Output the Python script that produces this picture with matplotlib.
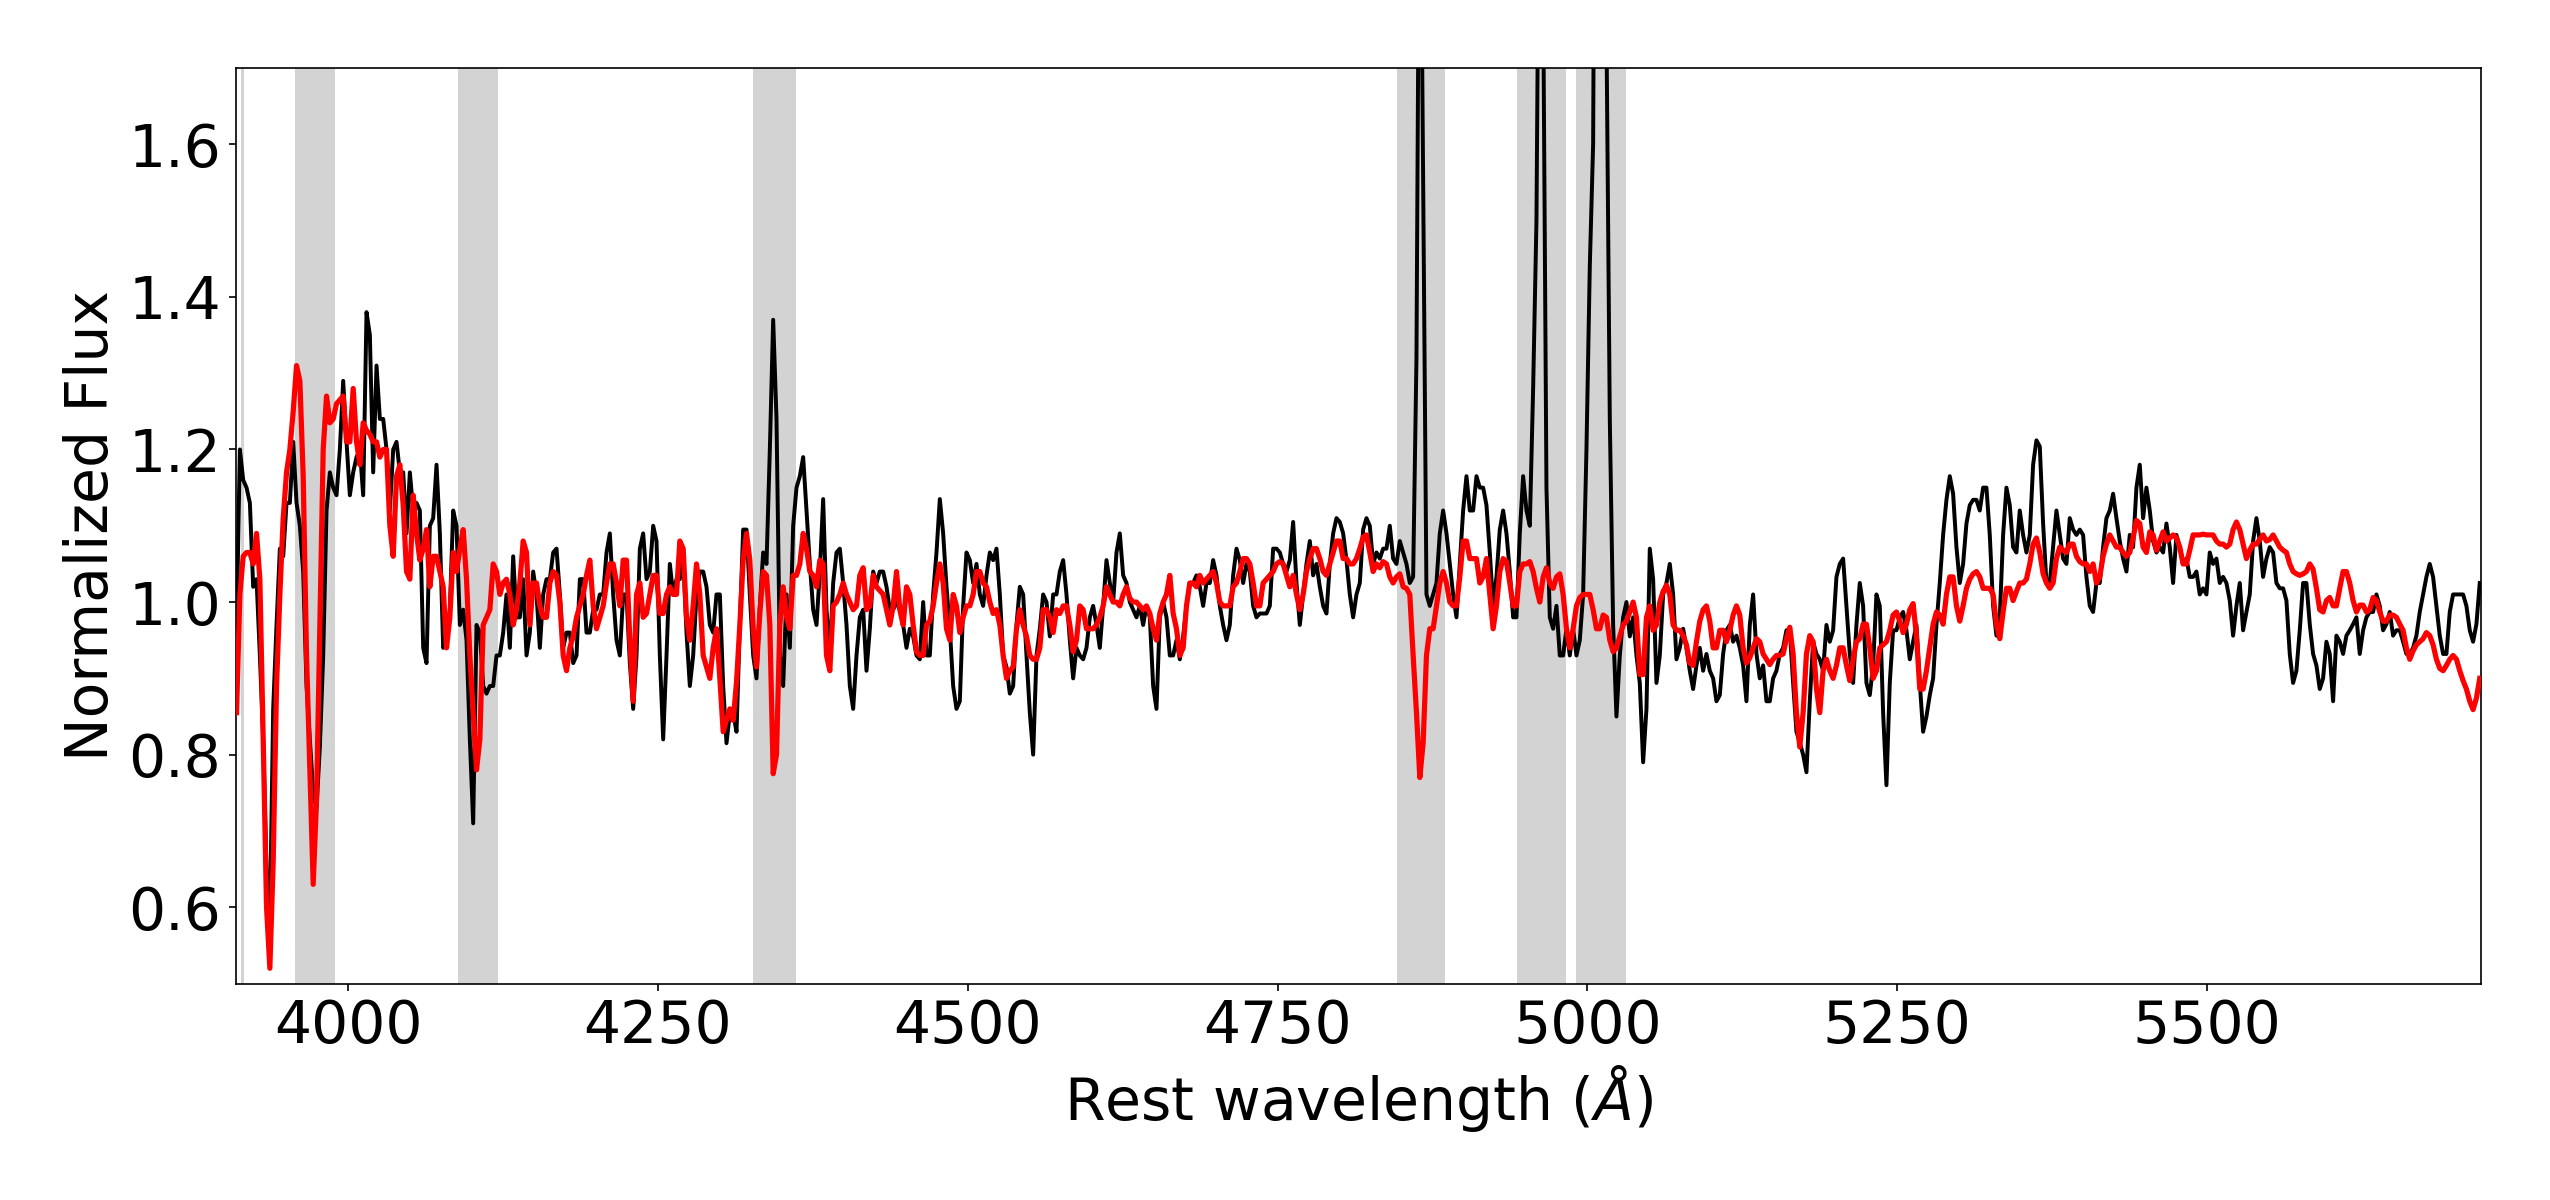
import numpy as np
import matplotlib
matplotlib.use("Agg")
import matplotlib.pyplot as plt

# Spectrum sampling (uniform dispersion grid of the spectrum)
wave_start = 3909.93
wave_step = 2.6895

black_a = [0.96,1.20,1.16,1.15,1.13,1.02,1.03,0.93,0.82,0.65,
           0.58,0.86,0.97,1.07,1.06,1.13,1.13,1.21,1.13,1.10,
           1.04,0.89,0.82,0.75,0.73,0.81,0.93,1.12,1.17,1.15,
           1.14,1.20,1.29,1.21,1.14,1.17,1.19,1.20,1.14,1.38,
           1.35,1.17,1.31,1.24,1.24,1.20,1.12,1.20,1.21,1.17,
           1.17,1.09,1.17,1.12,1.13,1.12,0.94,0.92,1.10,1.11,
           1.18,1.09,0.94,0.95,0.99,1.12,1.10,0.97,0.99,0.95,
           0.82,0.71,0.97,0.96,0.89,0.88,0.89,0.89,0.93,0.93,
           0.96,1.01,0.94,1.06,0.98]
black_b = [0.98,1.03,0.93,0.96,1.04,1.01,0.94,1.01,1.03,1.03,
           1.065,1.07,1.01,0.94,0.96,0.96,0.92,0.93,1.03,1.03,
           0.96,0.96,0.99,0.99,1.01,1.01,1.065,1.09,1.01,0.95,
           0.93,1.01,1.01,0.92,0.86,0.93,1.07,1.09,1.03,1.04,
           1.10,1.08,0.93,0.82,0.93,1.05,1.01,1.03,1.03,1.06,
           0.96,0.89,0.93,1.01,1.04,1.04,1.02,0.97,0.96,1.01,
           1.01,0.89,0.815,0.855,0.855,0.83,0.97,1.095,1.095,1.01,
           0.93,0.90,0.995,1.065,1.05,1.20,1.37,1.24,0.93,0.89,
           1.01,0.94,1.10,1.15]
black_c = [1.165,1.19,1.12,1.05,0.99,0.97,1.04,1.135,0.99,0.93,
           1.025,1.065,1.07,1.025,0.97,0.89,0.86,0.93,0.98,0.99,
           0.91,0.965,1.04,1.025,1.04,1.04,1.02,0.99,0.99,1.00,
           0.99,0.97,0.94,0.965,0.955,0.93,0.925,1.00,0.93,0.93,
           1.01,1.065,1.135,1.09,1.02,0.965,0.89,0.86,0.87,0.995,
           1.065,1.055,1.025,1.05,1.01,0.995,1.035,1.065,1.055,1.07,
           1.01,0.93,0.915,0.88,0.89,0.97,1.02,1.01,0.93,0.855,
           0.80,0.93,0.965,1.01,1.00,0.955,1.01,1.01,1.04,1.055,
           1.01,0.95,0.90,0.94]
black_d = [0.93,0.925,0.94,0.98,0.995,0.97,0.94,0.995,1.055,1.025,
           1.00,1.065,1.09,1.035,1.025,1.00,0.99,0.98,0.995,0.97,
           0.995,0.98,0.89,0.86,0.98,1.00,0.98,0.93,0.93,0.95,
           0.925,0.955,0.995,1.025,1.025,1.035,1.02,0.995,1.025,1.025,
           1.055,1.035,0.995,0.97,0.95,0.97,1.035,1.07,1.055,1.025,
           1.05,1.04,0.995,0.98,0.985,0.985,0.985,0.995,1.07,1.07,
           1.065,1.05,1.04,1.055,1.105,1.025,0.97,1.01,1.05,1.08,
           1.035,1.05,1.02,0.995,0.985,1.05,1.09,1.11,1.105,1.09,
           1.055,1.01,0.98,1.01]
black_e = [1.025,1.095,1.11,1.10,1.05,1.065,1.057,1.07,1.07,1.10,
           1.057,1.05,1.08,1.065,1.05,1.025,1.033,1.32,2.10,1.55,
           1.01,0.995,1.01,1.025,1.09,1.12,1.09,1.05,1.01,0.98,
           1.05,1.12,1.165,1.12,1.12,1.165,1.15,1.15,1.127,1.065,
           0.995,1.033,1.095,1.12,1.09,1.04,0.98,0.98,1.09,1.165,
           1.12,1.10,1.28,1.50,2.10,1.80,1.15,0.98,0.965,0.995,
           0.93,0.93,0.965,0.93,0.965,0.93,0.95,1.01,1.20,1.44,
           1.60,2.5,3.0,2.5,1.75,1.24,0.97,0.85,0.93,0.98,
           1.00,0.955,0.98,0.93]
black_f = [0.894,0.79,0.86,1.07,1.03,0.894,0.93,1.01,1.025,1.05,
           1.01,0.925,0.94,0.965,0.94,0.91,0.886,0.917,0.94,0.91,
           0.932,0.91,0.90,0.87,0.878,0.932,0.963,0.97,0.948,0.956,
           0.94,0.917,0.87,0.97,1.01,0.932,0.90,0.917,0.87,0.87,
           0.90,0.91,0.932,0.94,0.963,0.963,0.894,0.83,0.816,0.80,
           0.777,0.87,0.948,0.932,0.925,0.91,0.97,0.948,0.963,1.033,
           1.05,1.057,0.995,0.932,0.894,0.97,1.025,0.995,0.894,0.878,
           0.917,1.01,0.995,0.855,0.76,0.894,0.963,0.963,0.98,0.987,
           0.963,0.925,0.948,0.97]
black_g = [0.894,0.83,0.85,0.878,0.90,0.97,1.025,1.088,1.134,1.165,
           1.142,1.072,1.025,1.05,1.103,1.127,1.134,1.134,1.12,1.15,
           1.15,1.088,0.995,0.956,0.98,1.088,1.15,1.127,1.072,1.065,
           1.12,1.088,1.065,1.088,1.18,1.212,1.204,1.103,1.025,1.025,
           1.072,1.12,1.088,1.057,1.05,1.11,1.095,1.088,1.095,1.088,
           1.033,0.995,0.987,1.025,1.025,1.072,1.11,1.12,1.142,1.11,
           1.08,1.057,1.04,1.088,1.072,1.15,1.18,1.11,1.15,1.12,
           1.08,1.065,1.072,1.065,1.103,1.072,1.025,1.088,1.072,1.05,
           1.057,1.033,1.033,1.04]
black_h = [1.01,1.018,1.01,1.065,1.05,1.057,1.025,1.033,1.025,1.002,
           0.956,0.995,1.025,0.963,0.987,1.01,1.08,1.11,1.08,1.033,
           1.057,1.072,1.065,1.025,1.018,1.018,1.002,0.932,0.894,0.91,
           0.963,1.025,1.025,0.971,0.932,0.917,0.886,0.90,0.948,0.932,
           0.87,0.956,0.948,0.932,0.956,0.963,0.971,0.98,0.932,0.963,
           0.98,0.987,0.987,1.01,0.995,0.963,0.971,0.987,0.956,0.963,
           0.963,0.948,0.932,0.932,0.94,0.956,0.987,1.01,1.033,1.05,
           1.033,0.995,0.956,0.932,0.932,0.987,1.01,1.01,1.01,1.01,
           0.995,0.963,0.948,0.971,1.025]

# Model spectrum (red)
red_a = [0.855,1.01,1.06,1.065,1.065,1.05,1.09,1.03,0.82,0.60,
         0.52,0.66,0.89,1.01,1.11,1.17,1.20,1.25,1.31,1.29,
         1.165,0.93,0.78,0.63,0.74,0.97,1.20,1.27,1.235,1.24,
         1.26,1.265,1.27,1.21,1.21,1.28,1.21,1.18,1.235,1.225,
         1.22,1.21,1.21,1.19,1.20,1.20,1.10,1.06,1.165,1.18,
         1.127,1.04,1.03,1.14,1.09,1.055,1.07,1.095,1.02,1.06,
         1.06,1.04,1.02,0.94,0.98,1.065,1.04,1.07,1.095,1.03,
         0.93,0.855,0.78,0.82,0.97,0.98,0.99,1.05,1.04,1.01,
         1.025,1.03,1.01,0.97,0.99]
red_b = [1.025,1.08,1.065,0.97,1.025,1.025,0.995,0.98,0.98,1.025,
         1.04,1.035,1.00,0.93,0.91,0.94,0.955,0.98,0.995,1.01,
         1.035,1.055,0.995,0.965,0.98,0.995,1.025,1.05,1.05,1.025,
         0.995,1.055,1.055,0.95,0.87,1.01,1.025,0.98,0.985,1.01,
         1.035,1.035,0.985,0.985,1.01,1.02,1.01,1.01,1.08,1.07,
         0.98,0.95,0.995,1.05,1.01,0.93,0.915,0.90,0.94,0.965,
         0.90,0.83,0.845,0.86,0.845,0.895,0.97,1.055,1.09,1.055,
         0.965,0.915,0.985,1.04,1.035,0.97,0.775,0.80,0.97,1.02,
         0.98,0.965,1.035,1.035]
red_c = [1.05,1.09,1.07,1.04,1.035,1.02,1.055,1.05,0.93,0.91,
         0.995,1.00,1.01,1.025,1.01,1.00,0.99,0.995,1.035,1.045,
         0.99,0.995,1.035,1.02,1.015,1.01,0.99,0.97,0.995,1.04,
         0.99,0.97,1.02,1.01,0.97,0.935,0.93,0.93,0.97,0.975,
         0.995,1.025,1.05,1.025,0.965,0.95,1.01,0.995,0.96,0.98,
         0.995,0.995,1.01,1.04,1.04,1.025,1.02,1.00,0.985,0.99,
         0.97,0.93,0.90,0.91,0.915,0.965,0.99,0.97,0.955,0.93,
         0.925,0.925,0.94,0.99,0.99,0.98,0.96,0.99,0.985,0.995,
         0.995,0.97,0.935,0.95]
red_d = [0.995,0.99,0.965,0.965,0.965,0.97,0.98,0.995,1.02,1.01,
         1.00,1.00,0.995,1.01,1.02,1.005,1.00,1.00,0.995,0.99,
         0.995,0.985,0.965,0.95,0.985,1.00,1.01,1.035,0.985,0.965,
         0.93,0.94,0.995,1.025,1.025,1.02,1.035,1.025,1.03,1.035,
         1.04,1.025,1.00,0.995,0.995,0.995,1.02,1.025,1.04,1.057,
         1.057,1.05,1.025,0.995,0.995,1.025,1.03,1.035,1.04,1.05,
         1.053,1.05,1.035,1.02,1.035,1.01,0.99,1.01,1.04,1.057,
         1.07,1.07,1.057,1.04,1.035,1.05,1.065,1.08,1.08,1.057,
         1.057,1.05,1.05,1.057]
red_e = [1.07,1.085,1.088,1.065,1.04,1.05,1.045,1.053,1.05,1.033,
         1.025,1.033,1.037,1.02,1.018,1.01,0.93,0.855,0.77,0.815,
         0.93,0.965,0.965,0.995,1.025,1.04,1.025,1.00,0.995,0.995,
         1.033,1.08,1.08,1.057,1.057,1.057,1.025,1.033,1.057,1.01,
         0.965,0.995,1.04,1.057,1.053,1.025,0.995,0.995,1.04,1.05,
         1.05,1.053,1.04,1.018,1.00,1.033,1.045,1.025,1.018,1.033,
         1.037,1.01,0.965,0.94,0.965,0.995,1.006,1.01,1.01,1.01,
         0.99,0.965,0.965,0.983,0.98,0.95,0.935,0.94,0.955,0.97,
         0.975,0.987,1.00,0.98]
red_f = [0.905,0.905,0.98,0.995,0.963,0.97,1.00,1.014,1.022,1.01,
         0.97,0.963,0.963,0.956,0.944,0.92,0.917,0.948,0.975,0.99,
         0.995,0.975,0.94,0.94,0.963,0.963,0.948,0.963,0.983,0.995,
         0.983,0.94,0.92,0.927,0.94,0.952,0.948,0.932,0.925,0.918,
         0.925,0.93,0.93,0.932,0.952,0.967,0.932,0.855,0.81,0.855,
         0.932,0.956,0.948,0.886,0.855,0.91,0.925,0.91,0.90,0.917,
         0.94,0.94,0.917,0.897,0.925,0.948,0.952,0.971,0.971,0.94,
         0.90,0.91,0.94,0.944,0.948,0.963,0.983,0.987,0.975,0.96,
         0.971,0.99,0.998,0.956]
red_g = [0.886,0.886,0.91,0.94,0.971,0.987,0.983,0.971,1.01,1.033,
         1.033,0.995,0.975,0.995,1.018,1.03,1.037,1.04,1.033,1.018,
         1.018,1.018,1.01,0.971,0.952,0.987,1.018,1.018,1.002,1.014,
         1.025,1.025,1.03,1.05,1.076,1.084,1.065,1.037,1.025,1.018,
         1.025,1.057,1.072,1.068,1.065,1.076,1.076,1.06,1.053,1.05,
         1.05,1.04,1.05,1.025,1.033,1.06,1.076,1.088,1.08,1.072,
         1.072,1.065,1.06,1.065,1.084,1.107,1.103,1.072,1.065,1.092,
         1.088,1.068,1.08,1.092,1.08,1.084,1.088,1.084,1.072,1.05,
         1.05,1.068,1.088,1.088]
red_h = [1.088,1.089,1.088,1.088,1.088,1.08,1.076,1.076,1.072,1.076,
         1.095,1.105,1.095,1.076,1.057,1.068,1.076,1.076,1.082,1.088,
         1.08,1.082,1.088,1.08,1.072,1.068,1.065,1.05,1.04,1.037,
         1.035,1.037,1.04,1.05,1.043,1.018,0.99,0.987,1.002,1.006,
         0.995,0.995,1.018,1.04,1.04,1.025,1.002,0.987,0.996,0.996,
         0.987,0.99,1.006,1.002,0.987,0.975,0.975,0.983,0.983,0.98,
         0.971,0.963,0.94,0.925,0.936,0.944,0.948,0.952,0.96,0.956,
         0.944,0.925,0.913,0.91,0.917,0.925,0.93,0.925,0.91,0.897,
         0.886,0.87,0.859,0.874,0.90]

# Masked regions (grey bands), start / end wavelengths
mask_lo = [3913.4, 3957.5, 4088.8, 4326.8, 4845.9, 4943.2, 4990.8]
mask_hi = [3916.1, 3989.3, 4121.3, 4361.2, 4884.9, 4982.8, 5031.0]

x_ticks = [4000, 4250, 4500, 4750, 5000, 5250, 5500]
y_ticks = [0.6, 0.8, 1.0, 1.2, 1.4, 1.6]

black_flux = np.concatenate([black_a, black_b, black_c, black_d,
                             black_e, black_f, black_g, black_h])
red_flux = np.concatenate([red_a, red_b, red_c, red_d,
                           red_e, red_f, red_g, red_h])
wave = wave_start + wave_step * np.arange(len(black_flux))

fig = plt.figure(figsize=(17, 8), dpi=150)
ax = fig.add_axes([0.0925, 0.1804, 0.8806, 0.7629])

for lo, hi in zip(mask_lo, mask_hi):
    ax.axvspan(lo, hi, color='lightgray', lw=0, zorder=0)

ax.plot(wave, black_flux, color='black', lw=1.9, zorder=2)
ax.plot(wave, red_flux, color='red', lw=2.5, zorder=3)

ax.set_xlim(3909.4, 5721.3)
ax.set_ylim(0.5, 1.7)
ax.set_xticks(x_ticks)
ax.set_yticks(y_ticks)
ax.tick_params(labelsize=28)
ax.set_xlabel(r'Rest wavelength ($\AA$)', fontsize=28)
ax.set_ylabel('Normalized Flux', fontsize=28)

fig.savefig('out.png', dpi=150)
